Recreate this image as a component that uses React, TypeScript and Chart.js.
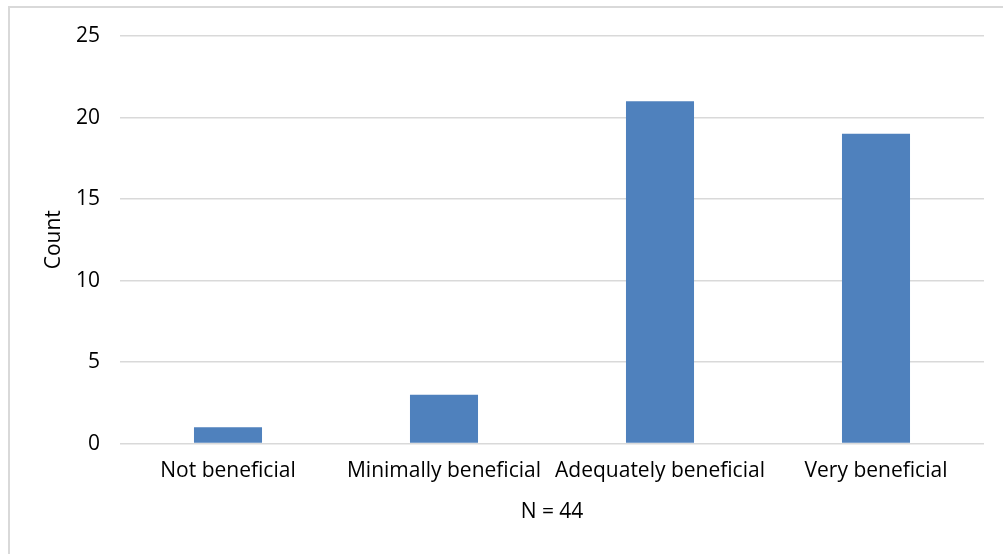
import React, { useEffect, useRef } from "react";
import { Chart, registerables } from "chart.js";

Chart.register(...registerables);

const categories = ["Not beneficial", "Minimally beneficial", "Adequately beneficial", "Very beneficial"];
const counts = [1, 3, 21, 19];
const yTicks = [0, 5, 10, 15, 20, 25];
const xTitle = "N = 44";
const yTitle = "Count";

const FONT = "'Open Sans', Lato, sans-serif";
const FS = 21;

export default function App() {
  const ref = useRef<HTMLCanvasElement | null>(null);
  useEffect(() => {
    if (!ref.current) return;
    const chart = new Chart(ref.current, {
      type: "bar",
      data: {
        labels: categories,
        datasets: [
          {
            data: counts,
            backgroundColor: "#4F81BD",
            borderWidth: 0,
            categoryPercentage: 1,
            barPercentage: 0.315,
          },
        ],
      },
      options: {
        animation: false,
        responsive: false,
        maintainAspectRatio: false,
        layout: { padding: { left: 0, right: 19, top: 36, bottom: 25 } },
        plugins: { legend: { display: false }, tooltip: { enabled: false } },
        scales: {
          x: {
            grid: { display: false, drawTicks: false },
            border: { display: false },
            ticks: {
              color: "#000",
              font: { family: FONT, size: FS },
              padding: 15,
              maxRotation: 0,
              autoSkip: false,
            },
            title: {
              display: true,
              text: xTitle,
              color: "#000",
              font: { family: FONT, size: FS },
              padding: { top: 1, bottom: 4 },
            },
          },
          y: {
            min: 0,
            max: 25,
            afterBuildTicks: (scale: any) => {
              scale.ticks = yTicks.map((v) => ({ value: v }));
            },
            afterFit: (scale: any) => {
              scale.width = 120;
            },
            grid: { color: "#d9d9d9", lineWidth: 1.5, drawTicks: false },
            border: { display: false },
            ticks: {
              color: "#000",
              font: { family: FONT, size: FS },
              padding: 20,
            },
            title: {
              display: true,
              text: yTitle,
              color: "#000",
              font: { family: FONT, size: FS },
              padding: { top: 41, bottom: 0 },
            },
          },
        },
      },
    });
    return () => chart.destroy();
  }, []);
  return (
    <div style={{ position: "fixed", left: 0, top: 0, width: 1003, height: 554, overflow: "hidden", background: "#fff" }}>
      <div
        style={{
          position: "absolute",
          left: 8,
          top: 6,
          width: 1100,
          height: 700,
          border: "2px solid #d9d9d9",
          boxSizing: "border-box",
        }}
      />
      <canvas ref={ref} width={1003} height={554} style={{ position: "absolute", left: 0, top: 0 }} />
    </div>
  );
}
